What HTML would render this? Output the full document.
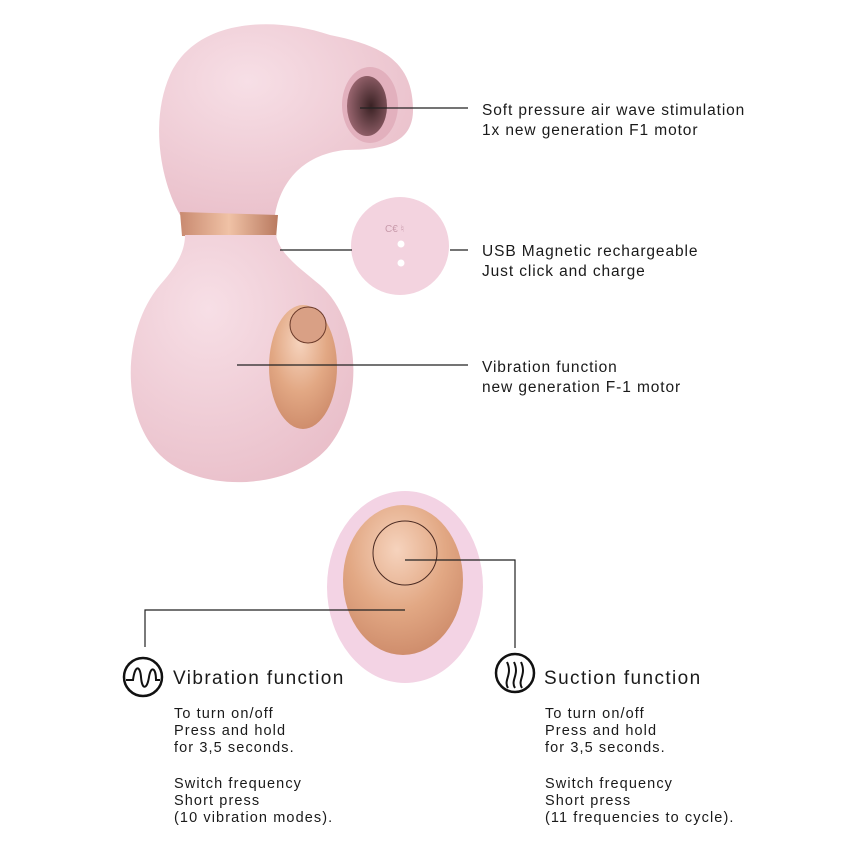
<!DOCTYPE html>
<html><head><meta charset="utf-8"><style>
body{margin:0;background:#fff}
svg{display:block}
text{font-family:"Liberation Sans",sans-serif;fill:#1a1a1a}
</style></head><body>
<svg width="850" height="850" viewBox="0 0 850 850">
<defs>
<radialGradient id="pk" cx="0.35" cy="0.3" r="0.85"><stop offset="0" stop-color="#f7dfe6"/><stop offset="1" stop-color="#e8bcc7"/></radialGradient>
<radialGradient id="cu" cx="0.45" cy="0.3" r="0.8"><stop offset="0" stop-color="#f6d3bd"/><stop offset="0.5" stop-color="#e2a884"/><stop offset="1" stop-color="#c98565"/></radialGradient>
<linearGradient id="band" x1="0" x2="1"><stop offset="0" stop-color="#c98a70"/><stop offset="0.5" stop-color="#f0c2a6"/><stop offset="1" stop-color="#b97a60"/></linearGradient>
<radialGradient id="hole" cx="0.6" cy="0.5" r="0.6"><stop offset="0" stop-color="#3a2224"/><stop offset="1" stop-color="#9a6670"/></radialGradient>
</defs>
<path d="M180,215 C160,180 150,120 170,75 C195,20 270,15 330,35 C380,45 413,60 413,110 C413,145 380,150 345,150 C300,155 280,185 275,215 Z" fill="url(#pk)"/>
<ellipse cx="370" cy="105" rx="28" ry="38" fill="#e2b0bd"/>
<ellipse cx="367" cy="106" rx="20" ry="30" fill="url(#hole)"/>
<path d="M180,212 L278,215 L276,238 L182,236 Z" fill="url(#band)"/>
<path d="M185,235 L276,235 C280,255 300,268 320,285 C360,320 365,400 330,445 C295,490 200,495 160,455 C120,415 122,330 160,285 C178,265 185,250 185,235 Z" fill="url(#pk)"/>
<ellipse cx="303" cy="367" rx="34" ry="62" fill="url(#cu)"/>
<circle cx="308" cy="325" r="18" fill="#d9a085" stroke="#6b3a2a" stroke-width="1"/>
<circle cx="400" cy="246" r="49" fill="#f3d3df"/>
<text x="385" y="232" font-size="10" style="fill:#c89aab">C€ ♮</text>
<circle cx="401" cy="244" r="3.5" fill="#fff"/>
<circle cx="401" cy="263" r="3.5" fill="#fff"/>
<ellipse cx="405" cy="587" rx="78" ry="96" fill="#f3d3e4"/>
<ellipse cx="403" cy="580" rx="60" ry="75" fill="url(#cu)"/>
<circle cx="405" cy="553" r="32" fill="none" stroke="#4a2a22" stroke-width="1"/>
<g stroke="#222" stroke-width="1.2" fill="none">
<line x1="360" y1="108" x2="468" y2="108"/>
<line x1="280" y1="250" x2="352" y2="250"/>
<line x1="450" y1="250" x2="468" y2="250"/>
<line x1="237" y1="365" x2="468" y2="365"/>
<polyline points="405,610 145,610 145,647"/>
<polyline points="405,560 515,560 515,648"/>
</g>
<circle cx="143" cy="677" r="19" fill="none" stroke="#111" stroke-width="2.5"/>
<path d="M126,680 L133,680 C135,665 140,665 141,677 C142,690 147,690 149,677 C151,665 156,668 156,680 L160,680" fill="none" stroke="#111" stroke-width="2"/>
<circle cx="515" cy="673" r="19" fill="none" stroke="#111" stroke-width="2.5"/>
<path d="M508,688 C503,680 513,675 507,662 M515,688 C510,680 520,675 514,662 M522,688 C517,680 527,675 521,662" fill="none" stroke="#111" stroke-width="2"/>
<g font-size="15.5" letter-spacing="0.9">
<text x="482" y="115">Soft pressure air wave stimulation</text>
<text x="482" y="135">1x new generation F1 motor</text>
<text x="482" y="256">USB Magnetic rechargeable</text>
<text x="482" y="276">Just click and charge</text>
<text x="482" y="372">Vibration function</text>
<text x="482" y="392">new generation F-1 motor</text>
</g>
<g font-size="19" letter-spacing="1.4">
<text x="173" y="684">Vibration function</text>
<text x="544" y="684">Suction function</text>
</g>
<g font-size="14.5" letter-spacing="1.1">
<text x="174" y="718">To turn on/off</text>
<text x="174" y="735">Press and hold</text>
<text x="174" y="752">for 3,5 seconds.</text>
<text x="174" y="788">Switch frequency</text>
<text x="174" y="805">Short press</text>
<text x="174" y="822">(10 vibration modes).</text>
<text x="545" y="718">To turn on/off</text>
<text x="545" y="735">Press and hold</text>
<text x="545" y="752">for 3,5 seconds.</text>
<text x="545" y="788">Switch frequency</text>
<text x="545" y="805">Short press</text>
<text x="545" y="822">(11 frequencies to cycle).</text>
</g>
</svg>
</body></html>
